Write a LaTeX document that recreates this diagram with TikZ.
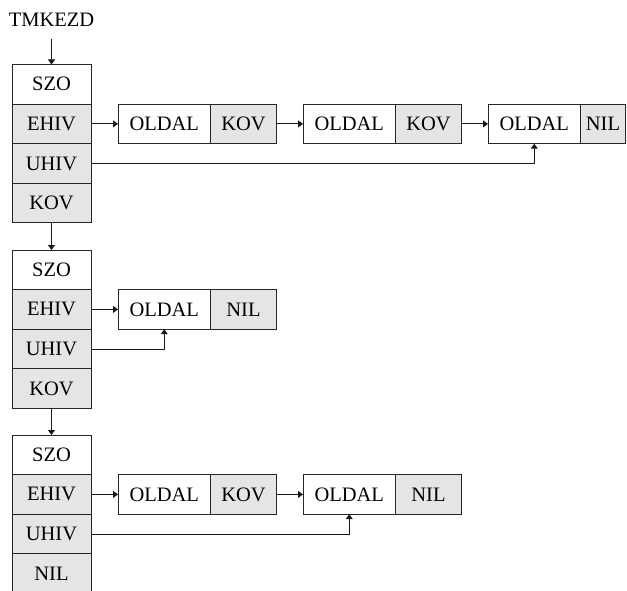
\documentclass[tikz,border=0pt]{standalone}
\usepackage{fontspec}
\setmainfont{Liberation Serif}
\usetikzlibrary{arrows.meta}
\newcommand{\cellfont}{\fontsize{20.5}{20.5}\selectfont}
\tikzset{
  cellbox/.style={draw=black!85, line width=0.9pt, minimum height=39.6pt, inner sep=0pt, outer sep=0pt, anchor=north west, font=\cellfont},
  colcell/.style={cellbox, minimum width=79pt},
  colgray/.style={colcell, fill=black!10},
  leftcell/.style={cellbox, minimum width=92.5pt},
  rightcell/.style={cellbox, minimum width=66pt, fill=black!10},
  arr/.style={-{Triangle[length=5pt,width=7pt]}, line width=0.9pt, draw=black!90},
}
\begin{document}
\begin{tikzpicture}[x=1pt,y=-1pt]
\useasboundingbox (0,0) rectangle (627,591);
\clip (0,0) rectangle (627,591);
% title
\node[font=\cellfont, minimum height=38pt, inner sep=0pt, outer sep=0pt] (tm) at (51.5,20) {TMKEZD};
% group 1
\node[colcell] (g1a) at (12,64.5) {SZO};
\node[colgray] (g1b) at (12,104.1) {EHIV};
\node[colgray] (g1c) at (12,143.7) {UHIV};
\node[colgray] (g1d) at (12,183.3) {KOV};
\node[leftcell]  (p11a) at (118,104.1) {OLDAL};
\node[rightcell] (p11b) at (210.5,104.1) {KOV};
\node[leftcell]  (p12a) at (303,104.1) {OLDAL};
\node[rightcell] (p12b) at (395.5,104.1) {KOV};
\node[leftcell]  (p13a) at (488,104.1) {OLDAL};
\node[rightcell, minimum width=45pt] (p13b) at (580.5,104.1) {NIL};
% group 2
\node[colcell] (g2a) at (12,250) {SZO};
\node[colgray] (g2b) at (12,289.6) {EHIV};
\node[colgray] (g2c) at (12,329.2) {UHIV};
\node[colgray] (g2d) at (12,368.8) {KOV};
\node[leftcell]  (p21a) at (118,289.6) {OLDAL};
\node[rightcell] (p21b) at (210.5,289.6) {NIL};
% group 3
\node[colcell] (g3a) at (12,435) {SZO};
\node[colgray] (g3b) at (12,474.6) {EHIV};
\node[colgray] (g3c) at (12,514.2) {UHIV};
\node[colgray] (g3d) at (12,553.8) {NIL};
\node[leftcell]  (p31a) at (118,474.6) {OLDAL};
\node[rightcell] (p31b) at (210.5,474.6) {KOV};
\node[leftcell]  (p32a) at (303,474.6) {OLDAL};
\node[rightcell] (p32b) at (395.5,474.6) {NIL};
% connectors
\draw[arr] (tm.south) -- (g1a.north);
\draw[arr] (g1d.south) -- (g2a.north);
\draw[arr] (g2d.south) -- (g3a.north);
\draw[arr] (g1b.east) -- (p11a.west);
\draw[arr] (p11b.east) -- (p12a.west);
\draw[arr] (p12b.east) -- (p13a.west);
\draw[arr] (g1c.east) -| (p13a.south);
\draw[arr] (g2b.east) -- (p21a.west);
\draw[arr] (g2c.east) -| (p21a.south);
\draw[arr] (g3b.east) -- (p31a.west);
\draw[arr] (p31b.east) -- (p32a.west);
\draw[arr] (g3c.east) -| (p32a.south);
\end{tikzpicture}
\end{document}
